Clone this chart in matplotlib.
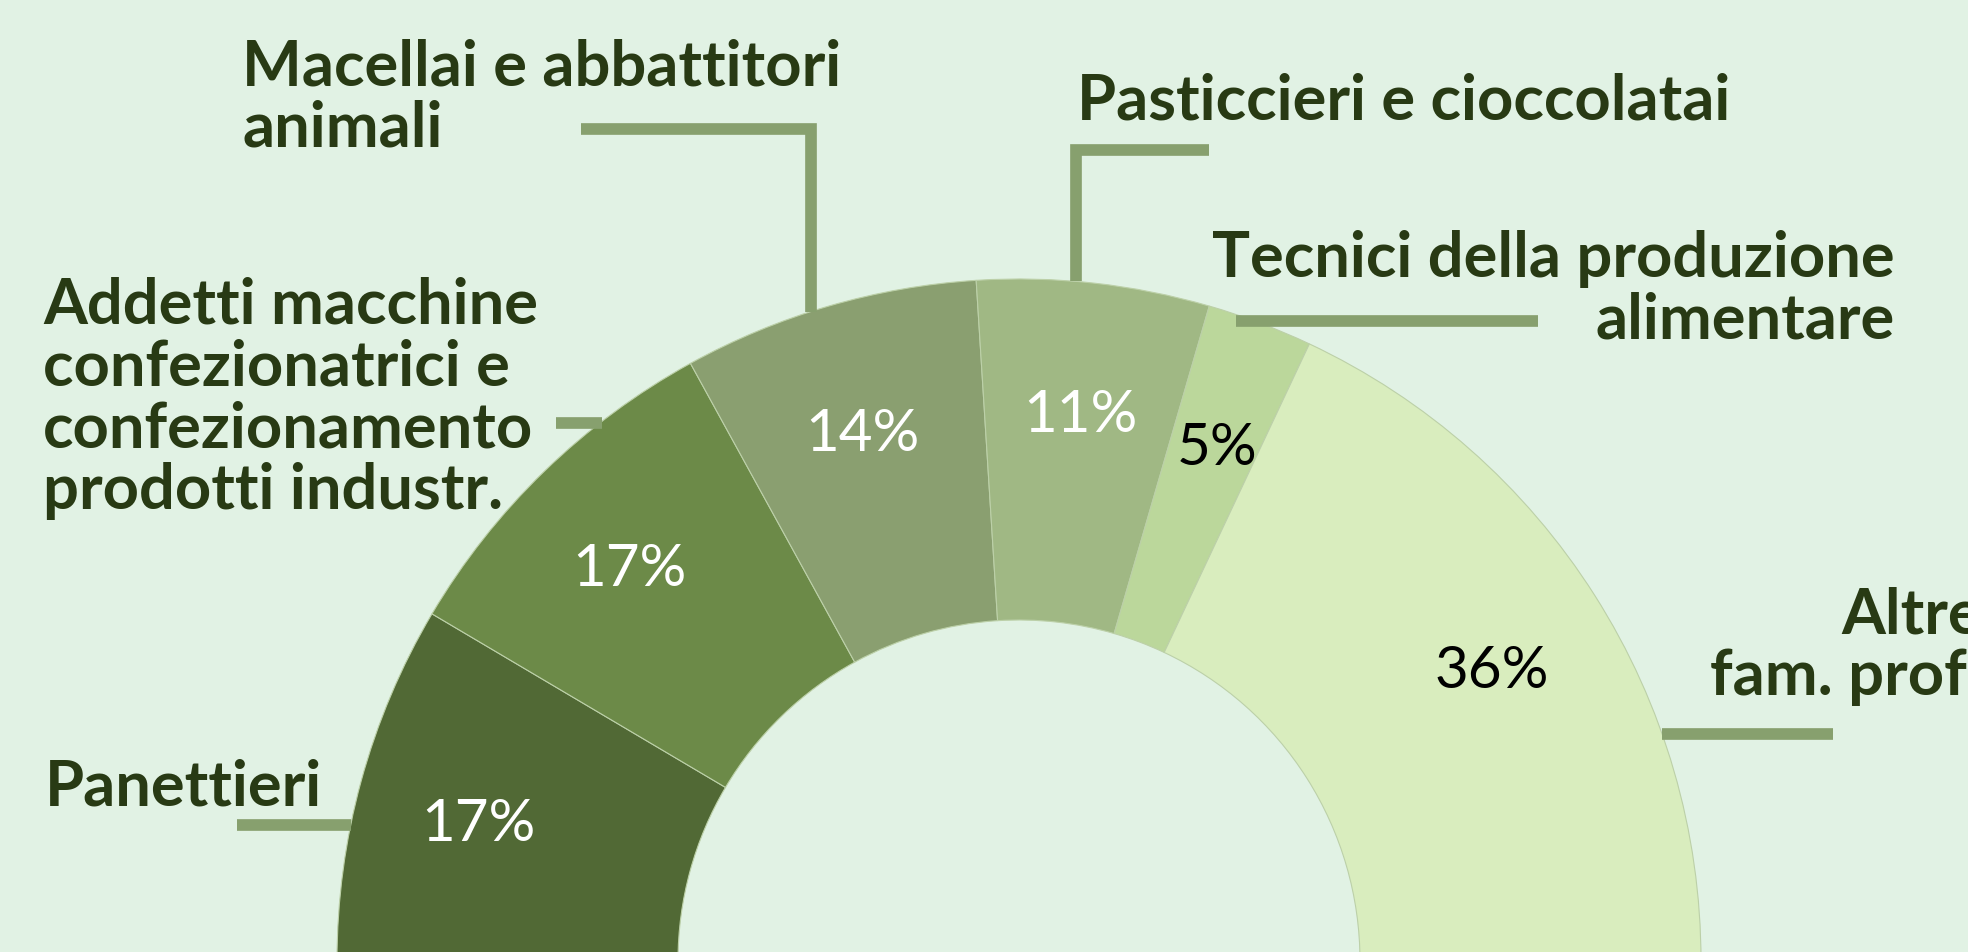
import numpy as np
import matplotlib.pyplot as plt

# dati: famiglie professionali e quote (%)
categories = [
    "Panettieri",
    "Addetti macchine\nconfezionatrici e\nconfezionamento\nprodotti industr.",
    "Macellai e abbattitori\nanimali",
    "Pasticcieri e cioccolatai",
    "Tecnici della produzione\nalimentare",
    "Altre\nfam. prof.",
]
shares = [17, 17, 14, 11, 5, 36]

# stile
BG = "#e1f2e4"
TXT = "#283a14"
LEAD = "#87a06e"
EDGE = "#bcd0a8"
colors = ["#516935", "#6c8a48", "#8a9f70", "#a0b884", "#bbd79b", "#d9edbe"]
pct_colors = ["white", "white", "white", "white", "black", "black"]

# layout in pixel (y verso il basso)
W, H = 1968, 952
CX, CY = 1019, 961
R_OUT, R_W = 682, 341
R_PCT = 560
PCT_DY = 6

# (x, y_top, ha, multialign) per etichetta
label_pos = [
    (45, 758, "left", "left"),
    (43, 277, "left", "left"),
    (242, 38, "left", "left"),
    (1077, 73, "left", "left"),
    (1895, 230, "right", "right"),
    (1710, 586, "left", "right"),
]
# linee guida
leaders = [
    ([351, 237], [825, 825]),
    ([602, 556], [423, 423]),
    ([811, 811, 581], [312, 129, 129]),
    ([1076, 1076, 1209], [281, 150, 150]),
    ([1236, 1538], [321, 321]),
    ([1662, 1833], [734, 734]),
]

fig = plt.figure(figsize=(W / 100, H / 100), dpi=100, facecolor=BG)
ax = fig.add_axes([0, 0, 1, 1])
ax.set_facecolor(BG)

# semi-ciambella: la meta' inferiore e' un settore nascosto
wedges, _ = ax.pie(
    shares + [sum(shares)],
    colors=colors + ["none"],
    startangle=180,
    counterclock=True,
    center=(CX, CY),
    radius=R_OUT,
    wedgeprops=dict(width=R_W, edgecolor=EDGE, linewidth=0.8),
)
wedges[-1].set_visible(False)

ax.set_xlim(0, W)
ax.set_ylim(H, 0)
ax.set_aspect("equal")
ax.axis("off")

# percentuali
for w, s, c in zip(wedges[:-1], shares, pct_colors):
    ang = np.deg2rad((w.theta1 + w.theta2) / 2)
    ax.text(CX + R_PCT * np.cos(ang), CY + R_PCT * np.sin(ang) + PCT_DY,
            f"{s}%", ha="center", va="center_baseline", fontsize=42,
            color=c, family="Lato", zorder=4)

# linee guida
for xs, ys in leaders:
    ax.plot(xs, ys, color=LEAD, lw=8.4, solid_capstyle="butt",
            solid_joinstyle="miter", zorder=3)

# etichette
for lab, (x, y, ha, ma) in zip(categories, label_pos):
    ax.text(x, y, lab, ha=ha, va="top", multialignment=ma, fontsize=45.5,
            fontweight="bold", color=TXT, family="Lato", linespacing=1.08,
            zorder=4)

fig.savefig("out.png", dpi=100, facecolor=BG)
